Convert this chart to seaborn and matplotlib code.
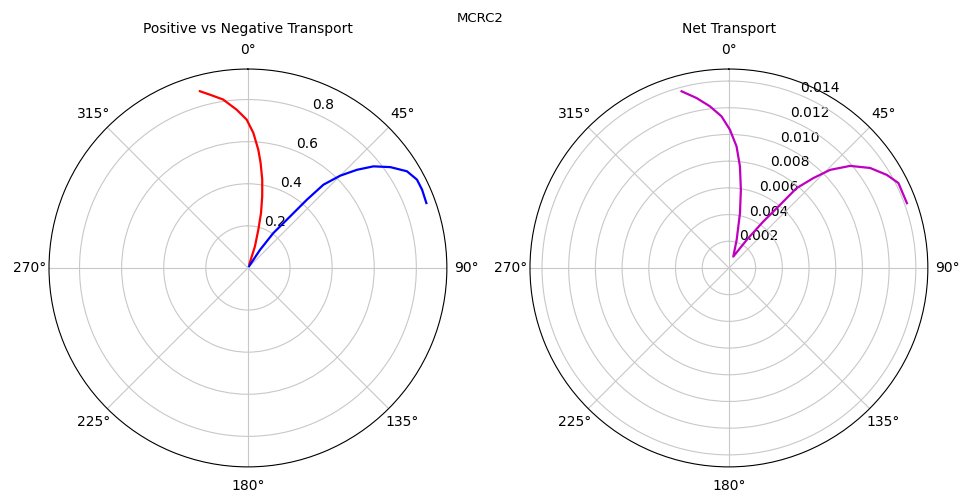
import numpy as np
import pandas as pd
import matplotlib
matplotlib.use("Agg")
import matplotlib.pyplot as plt
import seaborn as sns

# values: direction (deg, clockwise from north) and magnitude
pos_theta = [20, 18, 15.2, 13.4, 11.3, 9.2, 6.9, 5, 2.3, -0.5, -4.1, -8.4, -12.4, -15.2]
pos_r = [0.02, 0.107, 0.188, 0.268, 0.346, 0.425, 0.502, 0.564, 0.642, 0.705, 0.754, 0.809, 0.843, 0.870]

neg_theta = [33, 33.7, 36, 39.3, 40.8, 42.2, 45, 48, 51, 54.7, 58.7, 62.4, 65.8, 70]
neg_r = [0.01, 0.103, 0.204, 0.316, 0.428, 0.534, 0.62, 0.697, 0.767, 0.829, 0.884, 0.906, 0.907, 0.902]

net_theta = [-15, -10.8, -6.7, -2.8, 0.4, 3.6, 6.2, 8.7, 11.4, 15.4, 21,
             32.3, 36.5, 39, 40.3, 43.2, 45.9, 49.9, 54.7, 59.5, 63.4, 70]
net_r = [0.0137, 0.01296, 0.01219, 0.01137, 0.01036, 0.00912, 0.00765, 0.00592, 0.00419, 0.00218, 0.00091,
         0.00248, 0.00432, 0.00608, 0.00784, 0.00923, 0.01056, 0.01187, 0.01296, 0.01373, 0.0142, 0.01419]

pos = pd.DataFrame({"theta": np.deg2rad(pos_theta), "r": pos_r})
neg = pd.DataFrame({"theta": np.deg2rad(neg_theta), "r": neg_r})
net = pd.DataFrame({"theta": np.deg2rad(net_theta), "r": net_r})

fig = plt.figure(figsize=(9.61, 4.99), dpi=100)
ax1 = fig.add_axes([0.051, 0.064, 0.414, 0.798], projection="polar")
ax2 = fig.add_axes([0.5515, 0.064, 0.414, 0.798], projection="polar")

for ax in (ax1, ax2):
    ax.set_theta_zero_location("N")
    ax.set_theta_direction(-1)

sns.lineplot(data=pos, x="theta", y="r", sort=False, estimator=None, color="r", lw=1.6, ax=ax1)
sns.lineplot(data=neg, x="theta", y="r", sort=False, estimator=None, color="b", lw=1.6, ax=ax1)
sns.lineplot(data=net, x="theta", y="r", sort=False, estimator=None, color="m", lw=1.6, ax=ax2)

ax1.set_rlim(0, 0.945)
ax1.set_rticks([0.2, 0.4, 0.6, 0.8])
ax2.set_rlim(0, 0.0149)
ax2.set_rticks([0.002, 0.004, 0.006, 0.008, 0.010, 0.012, 0.014])
ax2.set_yticklabels(["0.002", "0.004", "0.006", "0.008", "0.010", "0.012", "0.014"])

for ax, title in ((ax1, "Positive vs Negative Transport"), (ax2, "Net Transport")):
    ax.set_xlabel("")
    ax.set_ylabel("")
    ax.grid(True, color="#c8c8c8", lw=0.8)
    ax.tick_params(labelsize=10)
    ax.set_title(title, fontsize=10, y=1.09, pad=0)

fig.suptitle("MCRC2", fontsize=9.5, y=0.975)

fig.savefig("out.png", dpi=100)
plt.close(fig)
